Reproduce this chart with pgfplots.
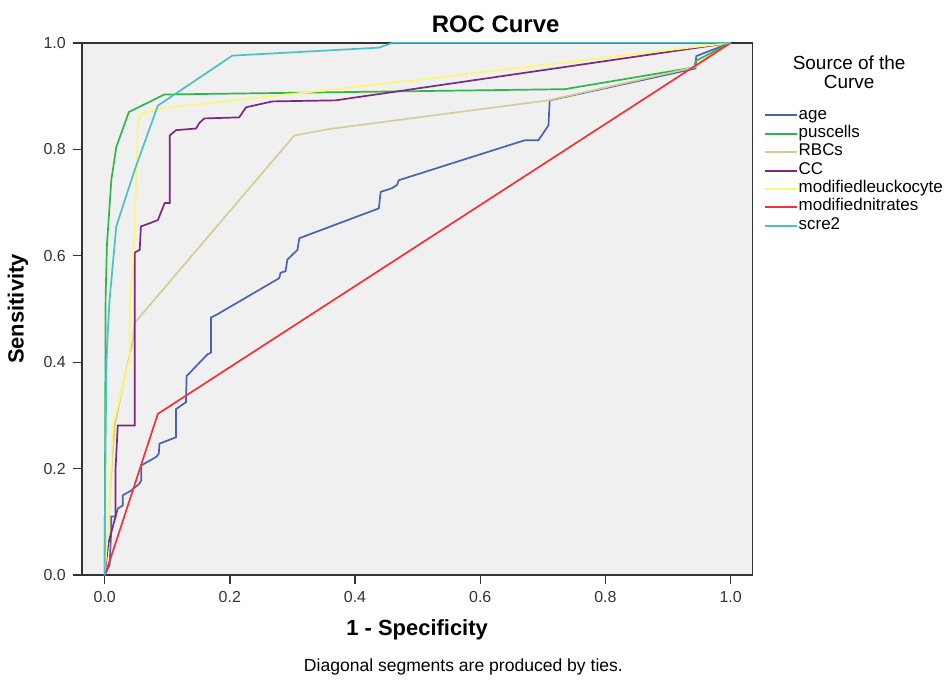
\documentclass[border=0pt]{standalone}
\usepackage{pgfplots}
\pgfplotsset{compat=1.18}
\usepackage{fontspec}
\setmainfont{Liberation Sans}

\definecolor{bgcol}{HTML}{F0F0F0}
\definecolor{cage}{HTML}{4A62B0}
\definecolor{cpus}{HTML}{2EB848}
\definecolor{crbc}{HTML}{D3CE97}
\definecolor{ccc}{HTML}{7C287D}
\definecolor{cleu}{HTML}{FBF873}
\definecolor{cnit}{HTML}{EF3338}
\definecolor{cscr}{HTML}{48C2C5}

\begin{document}
\begin{tikzpicture}
\begin{axis}[
  scale only axis,
  width=336.5pt,
  height=267pt,
  xmin=-0.0366, xmax=1.035,
  ymin=0, ymax=1,
  clip=false,
  axis background/.style={fill=bgcol},
  axis line style={draw=black!80, line width=0.8pt},
  xtick={0,0.2,0.4,0.6,0.8,1.0},
  ytick={0,0.2,0.4,0.6,0.8,1.0},
  tick pos=left,
  tick align=outside,
  major tick length=4.5pt,
  tick style={draw=black!80, line width=0.7pt},
  ticklabel style={font=\fontsize{8}{9.6}\selectfont, text=black!80},
  /pgf/number format/assume math mode=true,
  /pgf/number format/.cd, fixed, fixed zerofill, precision=1,
  /pgfplots/.cd,
  xlabel={\bfseries 1 - Specificity},
  ylabel={\bfseries Sensitivity},
  label style={font=\fontsize{11}{13}\selectfont},
  xlabel style={at={(axis description cs:0.5,-0.103)}, anchor=center},
  ylabel style={at={(axis description cs:-0.095,0.5)}, anchor=center, rotate=0},
  legend cell align=left,
  legend image code/.code={\draw[#1, line width=1pt] (0pt,0pt) -- (16pt,0pt);},
  legend style={at={(axis description cs:1.007,0.889)}, anchor=north west,
    draw=none, fill=none, font=\fontsize{8.5}{9}\selectfont,
    nodes={inner sep=0.6pt, text height=5.9pt, text depth=2.1pt},
    row sep=0pt},
  every axis plot/.append style={line width=0.85pt},
]
\addplot[cage] coordinates {
  (0,0) (0.008,0.019) (0.0107,0.088) (0.0107,0.110) (0.0175,0.110)
  (0.021,0.125) (0.029,0.131) (0.029,0.150) (0.0425,0.159) (0.0557,0.172)
  (0.0584,0.178) (0.0584,0.206) (0.0823,0.222) (0.0865,0.228) (0.0876,0.247)
  (0.114,0.259) (0.114,0.312) (0.130,0.325) (0.131,0.374) (0.1645,0.415)
  (0.170,0.418) (0.170,0.484) (0.180,0.490) (0.279,0.558) (0.281,0.568)
  (0.289,0.571) (0.292,0.593) (0.308,0.611) (0.311,0.633) (0.438,0.689)
  (0.441,0.720) (0.459,0.727) (0.467,0.733) (0.470,0.742) (0.671,0.817)
  (0.693,0.817) (0.709,0.845) (0.711,0.892) (0.944,0.952) (0.945,0.975)
  (0.960,0.982) (1,1)
};
\addlegendentry{age}
\addplot[cpus] coordinates {
  (0,0) (0.001,0.30) (0.0016,0.523) (0.0037,0.62) (0.0107,0.742)
  (0.0186,0.804) (0.0387,0.870) (0.0955,0.903) (0.735,0.913)
  (0.942,0.954) (0.944,0.966) (1,1)
};
\addlegendentry{puscells}
\addplot[crbc] coordinates {
  (0,0) (0.006,0.09) (0.010,0.18) (0.016,0.28) (0.030,0.36) (0.045,0.44)
  (0.048,0.474) (0.303,0.826) (0.358,0.838) (0.709,0.892) (0.942,0.954) (1,1)
};
\addlegendentry{RBCs}
\addplot[ccc] coordinates {
  (0,0) (0.006,0.06) (0.0175,0.11) (0.0175,0.20) (0.021,0.281) (0.048,0.281)
  (0.048,0.606) (0.056,0.611) (0.058,0.655) (0.085,0.667) (0.096,0.699)
  (0.104,0.699) (0.104,0.826) (0.114,0.836) (0.146,0.839) (0.151,0.849)
  (0.159,0.858) (0.215,0.860) (0.226,0.879) (0.268,0.890) (0.369,0.892) (1,1)
};
\addlegendentry{CC}
\addplot[cleu] coordinates {
  (0,0) (0.0053,0.082) (0.009,0.169) (0.013,0.281) (0.024,0.331)
  (0.040,0.406) (0.040,0.46) (0.041,0.52) (0.048,0.648) (0.053,0.848)
  (0.058,0.867) (0.092,0.877) (0.438,0.922) (1,1)
};
\addlegendentry{modifiedleuckocyte}
\addplot[cnit] coordinates {
  (0,0) (0.008,0.026) (0.085,0.303) (1,1)
};
\addlegendentry{modifiednitrates}
\addplot[cscr] coordinates {
  (0,0) (0.0015,0.25) (0.003,0.40) (0.0053,0.462) (0.008,0.518)
  (0.0186,0.655) (0.048,0.761) (0.085,0.882) (0.204,0.976)
  (0.438,0.991) (0.46,1.0) (1,1)
};
\addlegendentry{scre2}

\node[font=\fontsize{12}{14}\selectfont\bfseries] at (axis description cs:0.617,1.034) {ROC Curve};
\node[font=\fontsize{8.8}{10}\selectfont] at (axis description cs:0.569,-0.172) {Diagonal segments are produced by ties.};
\node[font=\fontsize{9.5}{9.5}\selectfont, align=center] at (axis description cs:1.144,0.944) {Source of the\\Curve};
\path (axis description cs:-0.1218,-0.1966) rectangle (axis description cs:1.2897,1.0805);
\end{axis}
\end{tikzpicture}
\end{document}
